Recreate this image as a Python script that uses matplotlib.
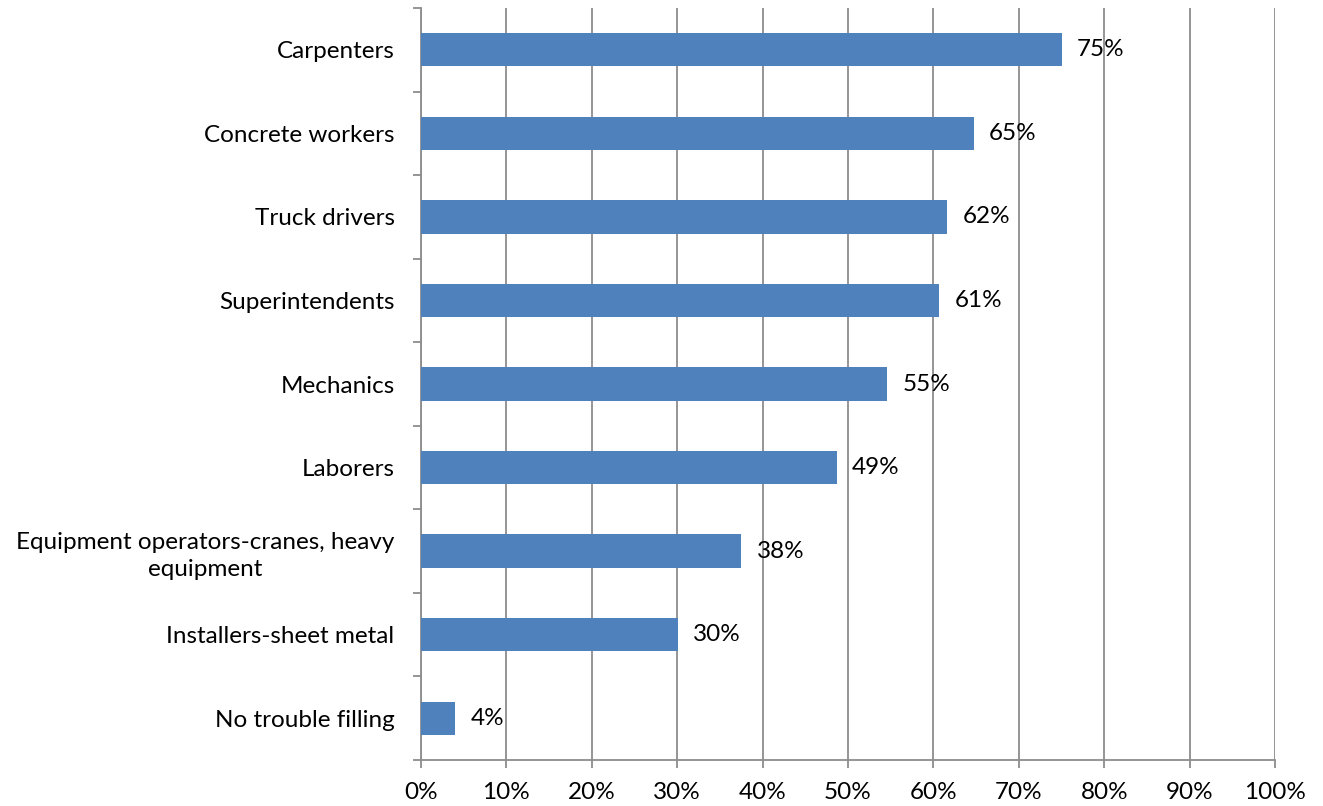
import matplotlib
matplotlib.use("Agg")
import matplotlib.pyplot as plt
import numpy as np

categories = ["Carpenters", "Concrete workers", "Truck drivers", "Superintendents",
              "Mechanics", "Laborers", "Equipment operators-cranes, heavy\nequipment",
              "Installers-sheet metal", "No trouble filling"]
values = [75, 64.7, 61.6, 60.7, 54.6, 48.7, 37.5, 30.1, 4.0]
labels = ["75%", "65%", "62%", "61%", "55%", "49%", "38%", "30%", "4%"]
xticks = list(range(0, 101, 10))
xticklabels = [f"{v}%" for v in xticks]

plt.rcParams['font.family'] = ['Lato', 'DejaVu Sans']
fs = 17.5
fig = plt.figure(figsize=(13.23, 8.06), dpi=100)
ax = fig.add_axes([421/1323, 1-760/806, (1275-421)/1323, (760-8)/806])

gray = "#8c8c8c"
y = np.arange(len(categories))
ax.barh(y, values, height=0.4, color="#4F81BD", zorder=3)
ax.set_ylim(len(categories)-0.5, -0.5)
ax.set_xlim(0, 100)
ax.set_xticks(xticks)
ax.set_xticklabels(xticklabels)
ax.set_yticks(y)
ax.set_yticklabels(categories)
for t in ax.get_yticklabels():
    t.set_multialignment('center')
    t.set_linespacing(1.35)
ax.set_yticks(np.arange(-0.5, len(categories), 1.0), minor=True)
ax.tick_params(axis='y', which='major', length=0, pad=19, labelsize=fs)
ax.tick_params(axis='y', which='minor', length=6, width=1.3, color=gray, direction='out')
ax.tick_params(axis='x', which='major', length=6, width=1.3, color=gray, pad=10, labelsize=fs)
ax.grid(axis='x', color=gray, linewidth=1.3, zorder=0)
for s in ['top', 'right']:
    ax.spines[s].set_visible(False)
for s in ['left', 'bottom']:
    ax.spines[s].set_color(gray)
    ax.spines[s].set_linewidth(1.3)

for yi, v, lab in zip(y, values, labels):
    ax.annotate(lab, (v, yi), xytext=(11, 0), textcoords='offset points',
                va='center', ha='left', fontsize=fs, zorder=4)

fig.savefig("out.png", dpi=100)
